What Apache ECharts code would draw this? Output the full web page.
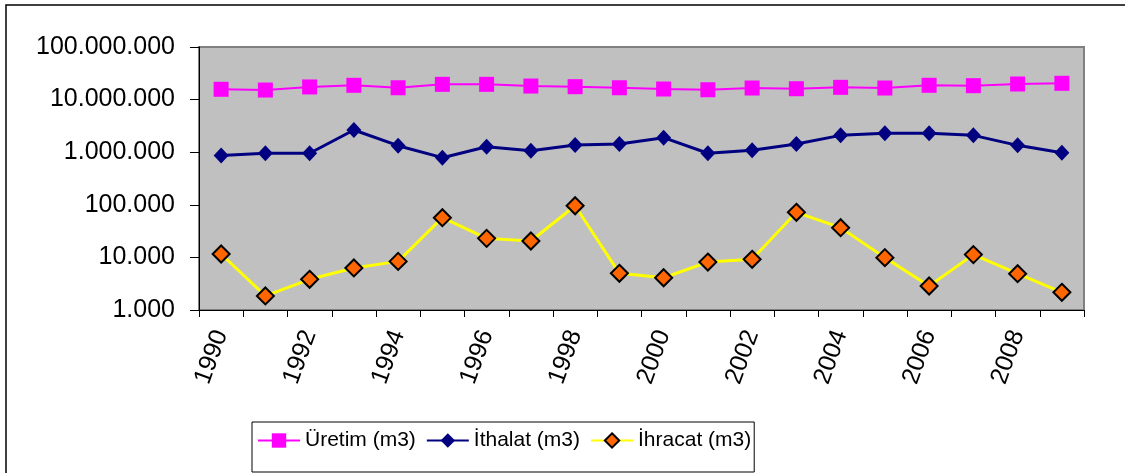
<!DOCTYPE html>
<html>
<head>
<meta charset="utf-8">
<script src="https://cdn.jsdelivr.net/npm/echarts@6/dist/echarts.min.js"></script>
<style>
  html, body { margin: 0; padding: 0; background: #fff; }
  #chart { width: 1125px; height: 473px; }
</style>
</head>
<body>
<div id="chart"></div>
<script>
// Yearly figures, 1990-2009 (m3)
const years = ['1990','1991','1992','1993','1994','1995','1996','1997','1998','1999',
               '2000','2001','2002','2003','2004','2005','2006','2007','2008','2009'];
const uretim = [15700000, 15200000, 17400000, 18700000, 16800000, 19500000, 19500000, 18100000, 17600000, 16800000,
                15900000, 15400000, 16600000, 16100000, 17100000, 16600000, 18700000, 18400000, 19800000, 20400000];
const ithalat = [870000, 955000, 955000, 2640000, 1330000, 787000, 1270000, 1070000, 1370000, 1430000,
                 1890000, 955000, 1090000, 1430000, 2090000, 2290000, 2290000, 2090000, 1350000, 980000];
const ihracat = [11600, 1850, 3830, 6300, 8400, 56900, 23000, 20500, 96000, 4980,
                 4100, 8150, 9200, 72000, 36700, 9900, 2860, 11300, 4900, 2170];
const seriesNames = ['Üretim (m3)', 'İthalat (m3)', 'İhracat (m3)'];

const FONT = "'Liberation Sans', Arial, sans-serif";

// thousands separated with dots
function fmt(v) {
  return String(Math.round(v)).replace(/\B(?=(\d{3})+(?!\d))/g, '.');
}

const chart = echarts.init(document.getElementById('chart'));
chart.setOption({
  animation: false,
  backgroundColor: '#ffffff',
  textStyle: { fontFamily: FONT, color: '#000' },
  graphic: [{
    type: 'rect',
    silent: true,
    z: -10,
    shape: { x: 6, y: 5, width: 1300, height: 700 },
    style: { fill: 'none', stroke: '#000', lineWidth: 1.5 }
  }],
  grid: {
    left: 199, top: 47, right: 41, bottom: 163,
    show: true,
    backgroundColor: '#C0C0C0',
    borderColor: '#808080',
    borderWidth: 2
  },
  legend: {
    left: 252, top: 422,
    orient: 'horizontal',
    data: seriesNames,
    itemWidth: 42, itemHeight: 18, itemGap: 10,
    padding: [6, 3, 19, 5],
    borderColor: '#000', borderWidth: 1,
    textStyle: { fontFamily: FONT, fontSize: 21, color: '#000', lineHeight: 25 }
  },
  xAxis: {
    type: 'category',
    data: years,
    boundaryGap: true,
    axisLine: { lineStyle: { color: '#000', width: 1 } },
    axisTick: { show: true, interval: 0, length: 7, lineStyle: { color: '#000' } },
    axisLabel: {
      interval: 1, rotate: 70, margin: 21,
      fontFamily: FONT, fontSize: 25, color: '#000'
    },
    splitLine: { show: false }
  },
  yAxis: {
    type: 'log',
    logBase: 10,
    min: 1000, max: 100000000,
    axisLine: { show: true, lineStyle: { color: '#000', width: 1 } },
    axisTick: { show: true, length: 9, lineStyle: { color: '#000' } },
    axisLabel: { formatter: fmt, margin: 24, fontFamily: FONT, fontSize: 25, color: '#000' },
    splitLine: { show: false },
    minorTick: { show: false }
  },
  series: [
    {
      name: seriesNames[0], type: 'line', data: uretim,
      symbol: 'rect', symbolSize: 15,
      lineStyle: { color: '#FF00FF', width: 2 },
      itemStyle: { color: '#FF00FF' }
    },
    {
      name: seriesNames[1], type: 'line', data: ithalat,
      symbol: 'diamond', symbolSize: [15, 16],
      lineStyle: { color: '#000080', width: 3 },
      itemStyle: { color: '#000080' }
    },
    {
      name: seriesNames[2], type: 'line', data: ihracat,
      symbol: 'diamond', symbolSize: [17, 17],
      lineStyle: { color: '#FFFF00', width: 3 },
      itemStyle: { color: '#FF6600', borderColor: '#000', borderWidth: 2 }
    }
  ]
});
</script>
</body>
</html>
